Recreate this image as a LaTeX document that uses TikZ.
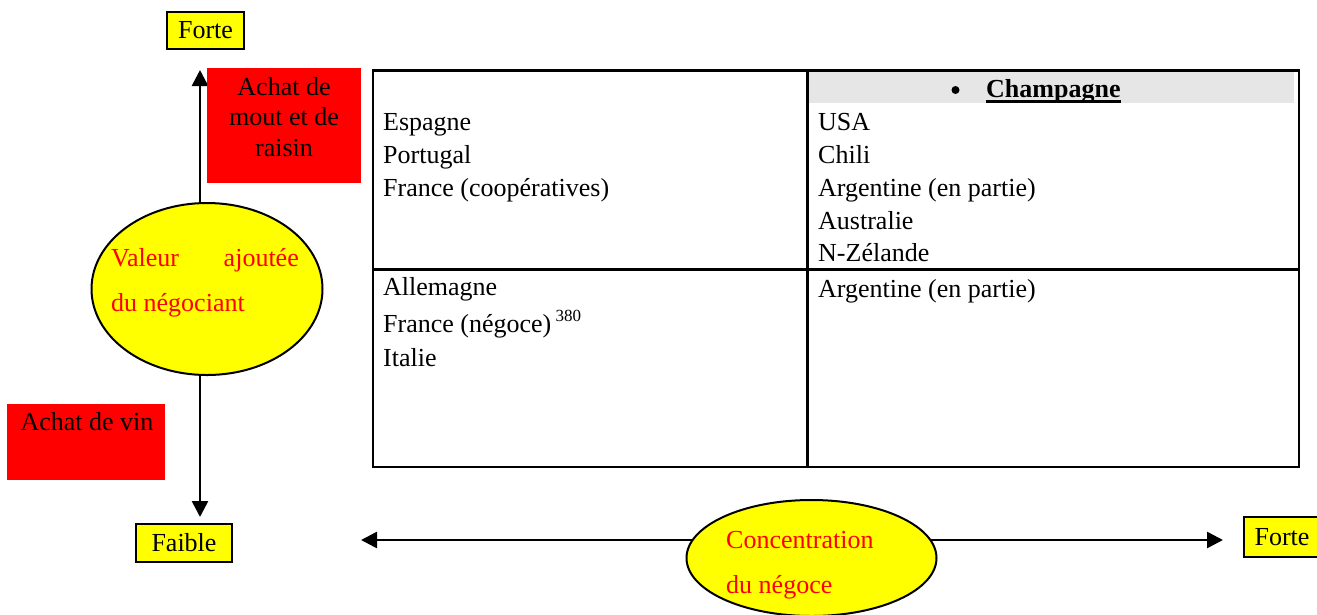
\documentclass[tikz,border=0pt]{standalone}
\usepackage{fontspec}
\setmainfont{Liberation Serif}
\usetikzlibrary{arrows.meta,shapes.geometric}
\definecolor{pureyellow}{RGB}{255,255,0}
\definecolor{purered}{RGB}{255,0,0}
\definecolor{bandgray}{RGB}{230,230,230}
\begin{document}
\begin{tikzpicture}[x=1pt,y=-1pt,
  txt/.style={inner sep=0pt, font=\fontsize{26}{32}\selectfont},
  rtxt/.style={txt, text=purered},
  ybox/.style={draw, line width=2pt, fill=pureyellow, inner sep=0pt, txt},
  rbox/.style={fill=purered, inner sep=0pt, anchor=north west},
  yell/.style={ellipse, draw, line width=2pt, fill=pureyellow, inner sep=0pt},
  axisarrow/.style={line width=2.6pt, -{Triangle[length=16pt,width=16pt]}},
  gridline/.style={line width=2.5pt}]
\useasboundingbox (0,0) rectangle (1317,614);

% ---- vertical axis ----
\coordinate (c1) at (200,289);
\coordinate (vtop) at (200,70);
\coordinate (vbot) at (200,517);
\draw[axisarrow] (c1) -- (vtop);
\draw[axisarrow] (c1) -- (vbot);

\node[ybox, minimum width=77pt, minimum height=37pt] (forteT) at (205.5,30.5) {Forte};
\node[rbox, minimum width=154pt, minimum height=115pt] (mout) at (207,68) {};
\node[txt, anchor=base] (m1) at (284,95) {Achat de};
\node[txt, anchor=base] (m2) at (284,125.5) {mout et de};
\node[txt, anchor=base] (m3) at (284,156.5) {raisin};

\node[yell, minimum width=231pt, minimum height=172pt] (ell1) at (207,289) {};
\node[rtxt, anchor=base west] (v1) at (111,266) {Valeur};
\node[rtxt, anchor=base east] (v2) at (299,266) {ajoutée};
\node[rtxt, anchor=base west] (v3) at (111,311) {du négociant};

\node[rbox, minimum width=158pt, minimum height=76pt] (vin) at (7,404) {};
\node[txt, anchor=base] (vintxt) at (87,430) {Achat de vin};

\node[ybox, minimum width=96pt, minimum height=38pt] (faible) at (184,542.5) {Faible};

% ---- table ----
\coordinate (tnw) at (373,70.7);
\coordinate (tse) at (1299,467);
\coordinate (tmid) at (807.5,269.5);
\fill[bandgray] (809,71.7) rectangle (1294,103);
\draw[gridline] (tnw) rectangle (tse);
\draw[gridline] (tnw -| tmid) -- (tse -| tmid);
\draw[gridline] (tnw |- tmid) -- (tse |- tmid);

\node[circle, fill=black, inner sep=0pt, minimum size=8pt] (bullet) at (955.5,90) {};
\node[txt, anchor=base west, font=\fontsize{26}{32}\selectfont\bfseries] (champ) at (986,97) {Champagne};
\draw[line width=2.6pt] ([yshift=-4.5pt]champ.base west) -- ([yshift=-4.5pt]champ.base east);

\node[txt, anchor=base west] (l1) at (383,130) {Espagne};
\node[txt, anchor=base west] (l2) at (383,163) {Portugal};
\node[txt, anchor=base west] (l3) at (383,196) {France (coopératives)};

\node[txt, anchor=base west] (r1) at (818,130) {USA};
\node[txt, anchor=base west] (r2) at (818,163) {Chili};
\node[txt, anchor=base west] (r3) at (818,196) {Argentine (en partie)};
\node[txt, anchor=base west] (r4) at (818,229) {Australie};
\node[txt, anchor=base west] (r5) at (818,261) {N-Zélande};

\node[txt, anchor=base west] (b1) at (383,295) {Allemagne};
\node[txt, anchor=base west] (b2) at (383,332) {France (négoce)\,\raisebox{11pt}{\fontsize{17}{17}\selectfont 380}};
\node[txt, anchor=base west] (b3) at (383,366) {Italie};

\node[txt, anchor=base west] (br1) at (818,297) {Argentine (en partie)};

% ---- horizontal axis ----
\coordinate (c2) at (811.5,540);
\coordinate (hl) at (361,540);
\coordinate (hr) at (1223,540);
\draw[axisarrow] (c2) -- (hl);
\draw[axisarrow] (c2) -- (hr);
\node[yell, minimum width=250pt, minimum height=116pt] (ell2) at (811.5,558) {};
\node[rtxt, anchor=base west] (k1) at (726,548) {Concentration};
\node[rtxt, anchor=base west] (k2) at (726,593) {du négoce};

\node[ybox, minimum width=76pt, minimum height=40pt, anchor=west] (forteR) at (1243,537) {Forte};
\end{tikzpicture}
\end{document}
